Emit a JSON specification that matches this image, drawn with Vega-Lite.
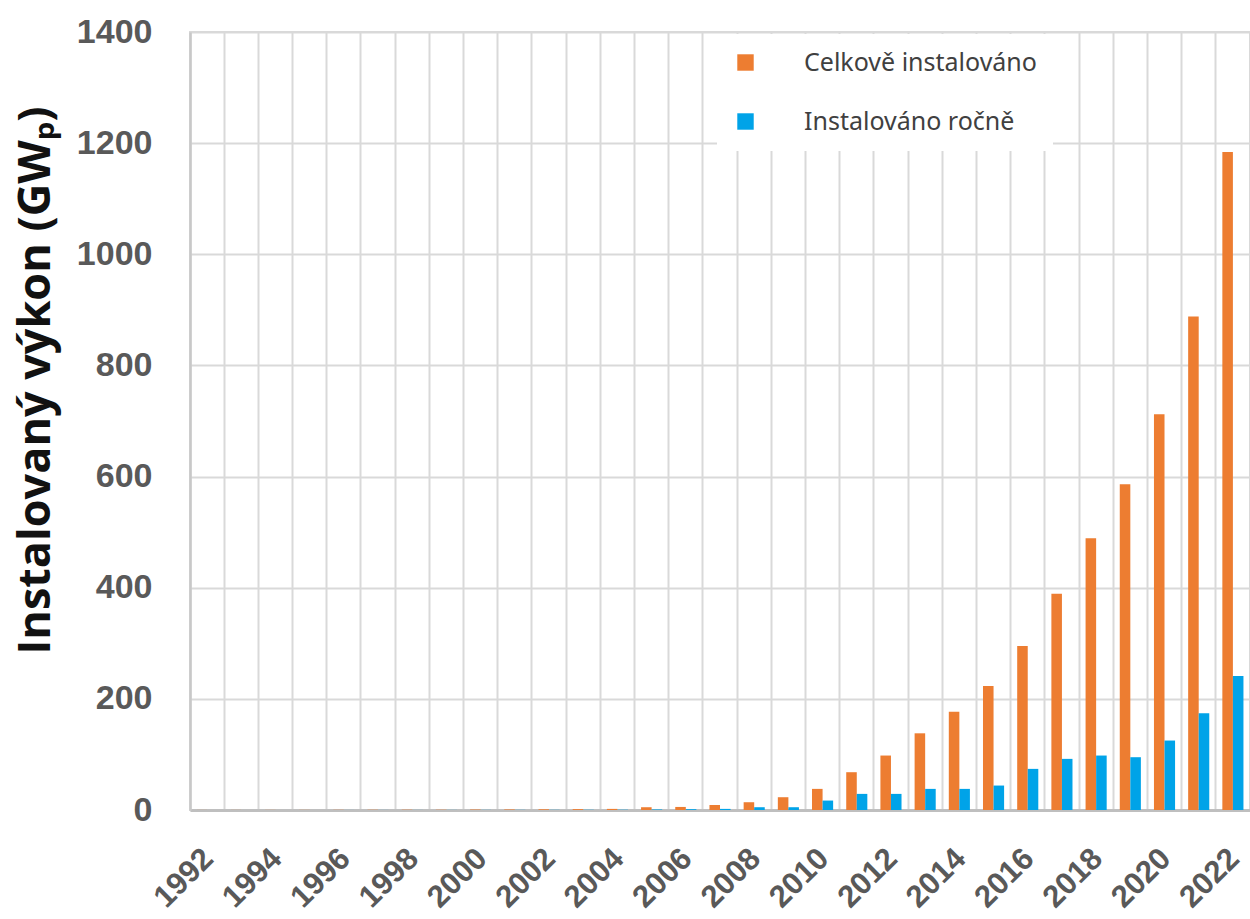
{
  "$schema": "https://vega.github.io/schema/vega-lite/v6.json",
  "width": 1060,
  "height": 778,
  "autosize": {"type": "none"},
  "padding": {"left": 190, "top": 32, "right": 0, "bottom": 109},
  "background": "white",
  "config": {
    "view": {"stroke": "#d9d9d9", "strokeWidth": 2}
  },
  "data": {
    "values": [
      {"year": 1992, "series": "Celkově instalováno", "value": 0.1},
      {"year": 1992, "series": "Instalováno ročně", "value": 0.05},
      {"year": 1993, "series": "Celkově instalováno", "value": 0.13},
      {"year": 1993, "series": "Instalováno ročně", "value": 0.03},
      {"year": 1994, "series": "Celkově instalováno", "value": 0.17},
      {"year": 1994, "series": "Instalováno ročně", "value": 0.04},
      {"year": 1995, "series": "Celkově instalováno", "value": 0.2},
      {"year": 1995, "series": "Instalováno ročně", "value": 0.05},
      {"year": 1996, "series": "Celkově instalováno", "value": 0.3},
      {"year": 1996, "series": "Instalováno ročně", "value": 0.07},
      {"year": 1997, "series": "Celkově instalováno", "value": 0.4},
      {"year": 1997, "series": "Instalováno ročně", "value": 0.1},
      {"year": 1998, "series": "Celkově instalováno", "value": 0.5},
      {"year": 1998, "series": "Instalováno ročně", "value": 0.1},
      {"year": 1999, "series": "Celkově instalováno", "value": 0.6},
      {"year": 1999, "series": "Instalováno ročně", "value": 0.15},
      {"year": 2000, "series": "Celkově instalováno", "value": 0.8},
      {"year": 2000, "series": "Instalováno ročně", "value": 0.2},
      {"year": 2001, "series": "Celkově instalováno", "value": 1.0},
      {"year": 2001, "series": "Instalováno ročně", "value": 0.25},
      {"year": 2002, "series": "Celkově instalováno", "value": 1.3},
      {"year": 2002, "series": "Instalováno ročně", "value": 0.3},
      {"year": 2003, "series": "Celkově instalováno", "value": 1.6},
      {"year": 2003, "series": "Instalováno ročně", "value": 0.4},
      {"year": 2004, "series": "Celkově instalováno", "value": 2.0},
      {"year": 2004, "series": "Instalováno ročně", "value": 0.5},
      {"year": 2005, "series": "Celkově instalováno", "value": 5},
      {"year": 2005, "series": "Instalováno ročně", "value": 1.0},
      {"year": 2006, "series": "Celkově instalováno", "value": 5.5},
      {"year": 2006, "series": "Instalováno ročně", "value": 1.5},
      {"year": 2007, "series": "Celkově instalováno", "value": 9},
      {"year": 2007, "series": "Instalováno ročně", "value": 2},
      {"year": 2008, "series": "Celkově instalováno", "value": 14},
      {"year": 2008, "series": "Instalováno ročně", "value": 5},
      {"year": 2009, "series": "Celkově instalováno", "value": 23},
      {"year": 2009, "series": "Instalováno ročně", "value": 5},
      {"year": 2010, "series": "Celkově instalováno", "value": 38},
      {"year": 2010, "series": "Instalováno ročně", "value": 17},
      {"year": 2011, "series": "Celkově instalováno", "value": 68},
      {"year": 2011, "series": "Instalováno ročně", "value": 29},
      {"year": 2012, "series": "Celkově instalováno", "value": 98},
      {"year": 2012, "series": "Instalováno ročně", "value": 29},
      {"year": 2013, "series": "Celkově instalováno", "value": 138},
      {"year": 2013, "series": "Instalováno ročně", "value": 38},
      {"year": 2014, "series": "Celkově instalováno", "value": 177},
      {"year": 2014, "series": "Instalováno ročně", "value": 38},
      {"year": 2015, "series": "Celkově instalováno", "value": 223},
      {"year": 2015, "series": "Instalováno ročně", "value": 44},
      {"year": 2016, "series": "Celkově instalováno", "value": 295},
      {"year": 2016, "series": "Instalováno ročně", "value": 74},
      {"year": 2017, "series": "Celkově instalováno", "value": 389},
      {"year": 2017, "series": "Instalováno ročně", "value": 92},
      {"year": 2018, "series": "Celkově instalováno", "value": 489},
      {"year": 2018, "series": "Instalováno ročně", "value": 98},
      {"year": 2019, "series": "Celkově instalováno", "value": 586},
      {"year": 2019, "series": "Instalováno ročně", "value": 95},
      {"year": 2020, "series": "Celkově instalováno", "value": 712},
      {"year": 2020, "series": "Instalováno ročně", "value": 125},
      {"year": 2021, "series": "Celkově instalováno", "value": 888},
      {"year": 2021, "series": "Instalováno ročně", "value": 174},
      {"year": 2022, "series": "Celkově instalováno", "value": 1184},
      {"year": 2022, "series": "Instalováno ročně", "value": 241}
    ]
  },
  "mark": {"type": "bar"},
  "encoding": {
    "x": {
      "field": "year",
      "type": "ordinal",
      "scale": {"paddingInner": 0, "paddingOuter": 0},
      "axis": {
        "title": null,
        "bandPosition": 0,
        "labelExpr": "datum.value % 2 == 0 ? datum.label : ''",
        "labelAngle": -45,
        "labelAlign": "right",
        "labelBaseline": "top",
        "labelOffset": -9,
        "labelPadding": 33,
        "labelFont": "Liberation Sans",
        "labelFontWeight": "bold",
        "labelFontSize": 31,
        "labelColor": "#595959",
        "labelOverlap": false,
        "ticks": false,
        "grid": true,
        "gridColor": "#d9d9d9",
        "gridWidth": 2,
        "domainColor": "#bfbfbf",
        "domainWidth": 3
      }
    },
    "xOffset": {
      "field": "series",
      "sort": ["Celkově instalováno", "Instalováno ročně"],
      "scale": {"paddingInner": 0, "paddingOuter": 0.62}
    },
    "y": {
      "field": "value",
      "type": "quantitative",
      "scale": {"domain": [0, 1400], "nice": false},
      "axis": {
        "values": [0, 200, 400, 600, 800, 1000, 1200, 1400],
        "format": "d",
        "title": "Instalovaný výkon (GWₚ)",
        "titleFont": "Open Sans",
        "titleFontWeight": "bold",
        "titleFontSize": 45,
        "titleColor": "#111111",
        "titleX": -155,
        "titleY": 348,
        "titleAlign": "center",
        "titleBaseline": "middle",
        "titleAngle": -90,
        "labelFont": "Liberation Sans",
        "labelFontWeight": "bold",
        "labelFontSize": 34,
        "labelColor": "#595959",
        "labelPadding": 38,
        "ticks": false,
        "grid": true,
        "gridColor": "#d9d9d9",
        "gridWidth": 2,
        "domainColor": "#c8c8c8",
        "domainWidth": 2.5
      }
    },
    "color": {
      "field": "series",
      "type": "nominal",
      "sort": ["Celkově instalováno", "Instalováno ročně"],
      "scale": {
        "domain": ["Celkově instalováno", "Instalováno ročně"],
        "range": ["#ED7D31", "#00A3E8"]
      },
      "legend": {
        "title": null,
        "orient": "none",
        "legendX": 527,
        "legendY": 2,
        "fillColor": "white",
        "padding": 16,
        "symbolType": "square",
        "symbolSize": 270,
        "symbolStrokeWidth": 0,
        "labelFont": "Noto Sans",
        "labelFontSize": 25,
        "labelColor": "#404040",
        "labelOffset": 46,
        "labelLimit": 400,
        "rowPadding": 33
      }
    }
  }
}
